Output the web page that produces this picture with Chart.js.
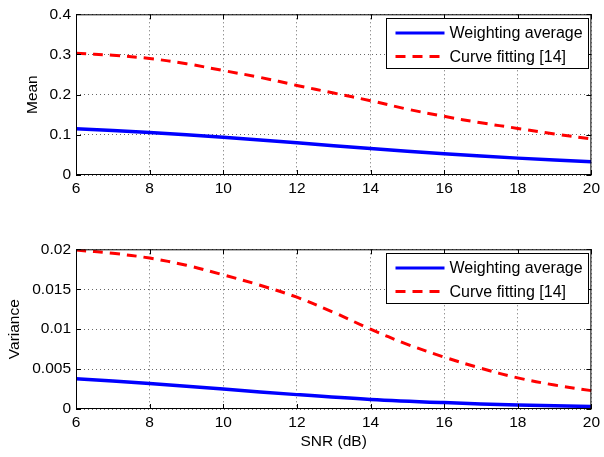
<!DOCTYPE html>
<html><head><meta charset="utf-8">
<script src="https://cdn.jsdelivr.net/npm/chart.js@4/dist/chart.umd.min.js"></script>
<style>
html,body{margin:0;padding:0;background:#fff;width:604px;height:457px;overflow:hidden}
.wrap{position:absolute;left:0;width:604px}
</style></head><body>
<div class="wrap" style="top:0;height:200px"><canvas id="c1" width="604" height="200"></canvas></div>
<div class="wrap" style="top:235px;height:222px"><canvas id="c2" width="604" height="222"></canvas></div>
<script>
const snrSparse = [6, 8, 10, 12, 14, 16, 18, 20];
const snrDense = [6, 7, 8, 9, 10, 11, 12, 13, 14, 15, 16, 17, 18, 19, 20];
const meanWeighting = [0.115, 0.106, 0.094, 0.080, 0.066, 0.053, 0.042, 0.033];
const meanCurveFit = [0.303, 0.298, 0.290, 0.277, 0.260, 0.243, 0.223, 0.204, 0.185, 0.164, 0.146, 0.130, 0.116, 0.102, 0.090];
const varWeighting = [0.0038, 0.0032, 0.0025, 0.0018, 0.0012, 0.0008, 0.0005, 0.0003];
const varCurveFit = [0.0199, 0.0195, 0.0189, 0.0180, 0.0168, 0.0155, 0.0140, 0.0121, 0.0100, 0.0081, 0.0065, 0.0051, 0.0039, 0.0030, 0.0023];
const xTicks = [6, 8, 10, 12, 14, 16, 18, 20];
const meanTicks = [0, 0.1, 0.2, 0.3, 0.4];
const varTicks = [0, 0.005, 0.01, 0.015, 0.02];
const legendLabels = ['Weighting average', 'Curve fitting [14]'];

const FONT = 'Liberation Sans, Arial, Helvetica, sans-serif';
const toPts = (xs, ys) => xs.map((x, i) => ({x, y: ys[i]}));

const framePlugin = {
  id: 'frame',
  afterDatasetsDraw(chart) {
    const {ctx, chartArea: a, scales} = chart;
    ctx.save();
    ctx.strokeStyle = '#000';
    ctx.lineWidth = 1;
    ctx.strokeRect(a.left + 0.5, a.top + 0.5, a.right - a.left - 1, a.bottom - a.top - 1);
    const tl = 5;
    ctx.beginPath();
    scales.x.ticks.forEach(t => {
      const px = Math.round(scales.x.getPixelForValue(t.value)) + 0.5;
      ctx.moveTo(px, a.bottom); ctx.lineTo(px, a.bottom - tl);
      ctx.moveTo(px, a.top); ctx.lineTo(px, a.top + tl);
    });
    scales.y.ticks.forEach(t => {
      const py = Math.round(scales.y.getPixelForValue(t.value)) + 0.5;
      ctx.moveTo(a.left, py); ctx.lineTo(a.left + tl, py);
      ctx.moveTo(a.right, py); ctx.lineTo(a.right - tl, py);
    });
    ctx.stroke();
    // legend
    const w = 202, h = 50;
    const lx = Math.round(a.right - w - 3) + 0.5, ly = Math.round(a.top + 4) + 0.5;
    ctx.fillStyle = '#fff';
    ctx.fillRect(lx, ly, w, h);
    ctx.strokeRect(lx, ly, w, h);
    ctx.font = '16px ' + FONT;
    ctx.textBaseline = 'middle';
    chart.data.datasets.forEach((ds, i) => {
      const y = ly + 14.5 + i * 23.5;
      ctx.beginPath();
      ctx.strokeStyle = ds.borderColor;
      ctx.lineWidth = 3;
      ctx.setLineDash(ds.borderDash || []);
      ctx.moveTo(lx + 9, y); ctx.lineTo(lx + 58, y);
      ctx.stroke();
      ctx.setLineDash([]);
      ctx.fillStyle = '#000';
      ctx.fillText(legendLabels[i], lx + 63, y + 1);
    });
    ctx.restore();
  }
};

function makeChart(id, wData, cData, yTicks, yMax, yTitle, xTitle, xAxisH, yTitlePad) {
  return new Chart(document.getElementById(id), {
    type: 'line',
    data: {
      datasets: [
        {data: toPts(snrSparse, wData), borderColor: '#0000ff', borderWidth: 3.5, pointRadius: 0, tension: 0.35, fill: false},
        {data: toPts(snrDense, cData), borderColor: '#ff0000', borderWidth: 3, borderDash: [10, 7], pointRadius: 0, tension: 0.35, fill: false}
      ]
    },
    options: {
      responsive: false, animation: false, devicePixelRatio: 1,
      layout: {padding: {top: 9, right: 7, left: 0, bottom: 0}},
      plugins: {legend: {display: false}, tooltip: {enabled: false}},
      scales: {
        x: {
          type: 'linear', min: 6, max: 20,
          afterBuildTicks: s => { s.ticks = xTicks.map(v => ({value: v})); },
          afterFit: s => { s.height = xAxisH; },
          ticks: {color: '#000', font: {family: FONT, size: 15.5}, padding: 4, maxRotation: 0, autoSkip: false},
          grid: {color: '#000', lineWidth: 0.6, borderDash: [1, 3], drawTicks: false},
          border: {display: false, dash: [1, 3]},
          title: {display: !!xTitle, text: xTitle || '', color: '#000', font: {family: FONT, size: 15.5}, padding: {top: 0, bottom: 6}}
        },
        y: {
          type: 'linear', min: 0, max: yMax,
          afterBuildTicks: s => { s.ticks = yTicks.map(v => ({value: v})); },
          afterFit: s => { s.width = 76; },
          ticks: {color: '#000', font: {family: FONT, size: 15.5}, padding: 5, callback: v => String(v)},
          grid: {color: '#000', lineWidth: 0.6, borderDash: [1, 3], drawTicks: false},
          border: {display: false, dash: [1, 3]},
          title: {display: true, text: yTitle, color: '#000', font: {family: FONT, size: 15.5}, padding: {top: yTitlePad, bottom: 0}}
        }
      }
    },
    plugins: [framePlugin]
  });
}

makeChart('c1', meanWeighting, meanCurveFit, meanTicks, 0.4, 'Mean', null, 25, 23);
makeChart('c2', varWeighting, varCurveFit, varTicks, 0.02, 'Variance', 'SNR (dB)', 48, 5);
</script></body></html>
